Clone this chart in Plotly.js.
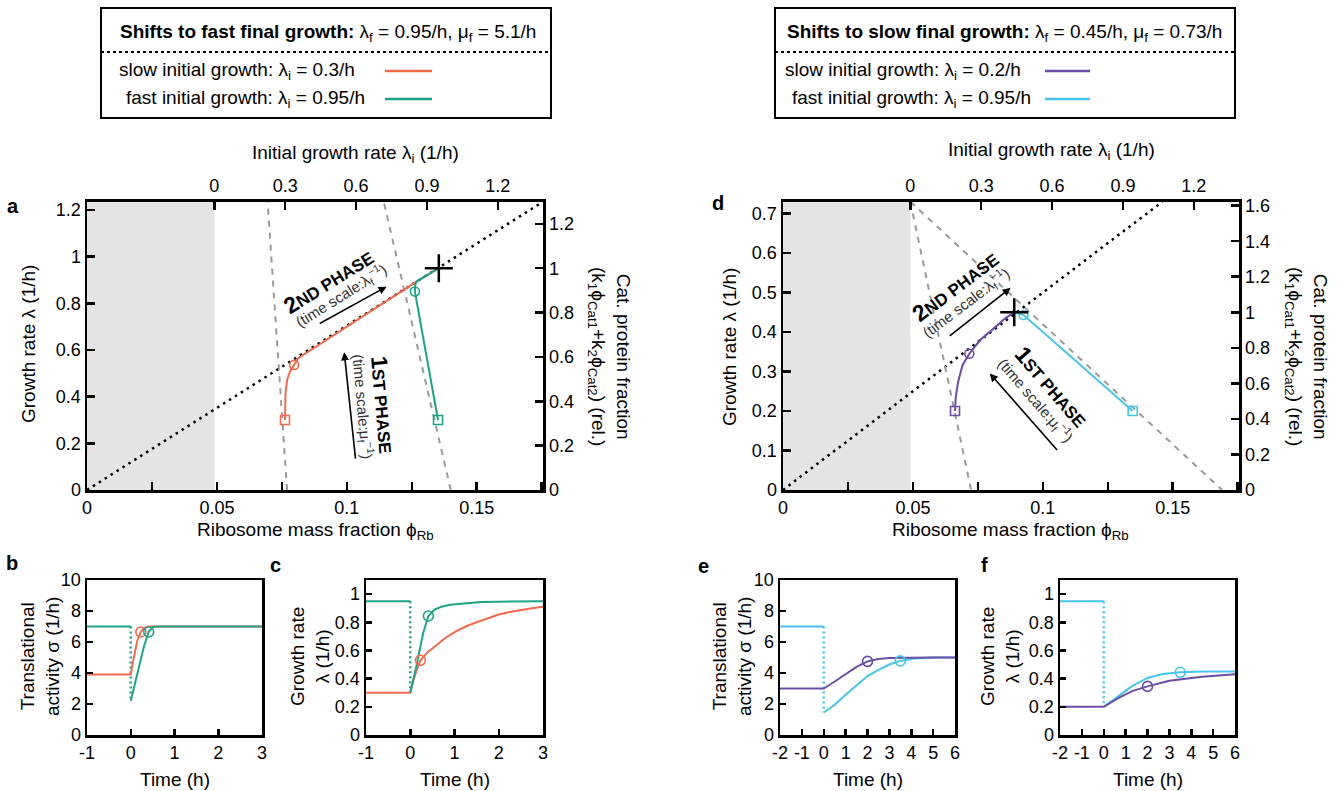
<!DOCTYPE html>
<html>
<head>
<meta charset="utf-8">
<script src="https://cdn.plot.ly/plotly-3.0.1.min.js"></script>
<style>
  html, body { margin: 0; padding: 0; background: #fff; }
  #fig { width: 1339px; height: 791px; }
</style>
</head>
<body>
<div id="fig"></div>
<script>
// ---------- page geometry helpers ----------
const W = 1339, H = 791;
const px = v => v / W;          // page x (pixels) -> paper fraction
const py = v => 1 - v / H;      // page y (pixels) -> paper fraction

const FONT = 'Liberation Sans, Arial, Helvetica, sans-serif';
const RED = '#F26A4B', TEAL = '#1FA387', PURPLE = '#6B4DA6', CYAN = '#47C4EC';
const GREY = '#9a9a9a';

// ---------- model constants ----------
const PHI0 = 0.049;    // ribosome fraction at zero growth (shaded band)
const KAPPA = 11;      // top axis: lambda_i = KAPPA * (phi - PHI0)
const A_LAM_F = 0.95;  // final growth rate, fast shift (right axis is relative to it)
const D_LAM_F = 0.45;  // final growth rate, slow shift

// ---------- panel a : shift to fast final growth ----------
const aDotPhi = [0, 0.1755];
const aDotLam = [0, 1.235];
const aGuide1Phi = [0.0770, 0.0695];
const aGuide2Phi = [0.1400, 0.1142];
const aGuideLam = [0, 1.235];
const aSlowPhi = [0.0762, 0.0762, 0.0764, 0.0770, 0.0781, 0.0797, 0.0813, 0.1268, 0.1354];
const aSlowLam = [0.300, 0.330, 0.414, 0.471, 0.507, 0.536, 0.565, 0.893, 0.950];
const aFastPhi = [0.1351, 0.1262, 0.1263, 0.1268, 0.1354];
const aFastLam = [0.300, 0.850, 0.878, 0.893, 0.950];
const aSlowStart = [0.0762, 0.300], aSlowMid = [0.0797, 0.536];
const aFastStart = [0.1351, 0.300], aFastMid = [0.1262, 0.850];
const aFinal = [0.1354, 0.950];
const topTicks = [0, 0.3, 0.6, 0.9, 1.2];

// ---------- panel d : shift to slow final growth ----------
const dDotPhi = [0, 0.146];
const dDotLam = [0, 0.73];
const dGuide1Phi = [0.049, 0.0724];
const dGuide2Phi = [0.049, 0.1690];
const dGuideLam = [0.73, 0];
const dSlowPhi = [0.0662, 0.0665, 0.0674, 0.0691, 0.0717, 0.0758, 0.0809, 0.0854, 0.0890];
const dSlowLam = [0.200, 0.236, 0.274, 0.316, 0.345, 0.379, 0.408, 0.434, 0.450];
const dFastPhi = [0.1346, 0.0926, 0.0890];
const dFastLam = [0.200, 0.443, 0.450];
const dSlowStart = [0.0662, 0.200], dSlowMid = [0.0717, 0.345];
const dFastStart = [0.1346, 0.200], dFastMid = [0.0926, 0.443];
const dFinal = [0.0890, 0.450];

// ---------- panel b : translational activity, fast shift ----------
const bSlowT = [-1, 0, 0.05, 0.10, 0.15, 0.23, 0.30, 0.40, 3];
const bSlowS = [3.9, 3.9, 4.7, 5.5, 6.1, 6.65, 6.9, 7.0, 7.0];
const bFastPreT = [-1, 0], bFastPreS = [7.0, 7.0];
const bFastJumpT = [0, 0], bFastJumpS = [7.0, 2.2];
const bFastT = [0, 0.10, 0.20, 0.30, 0.41, 0.50, 0.60, 3];
const bFastS = [2.2, 3.4, 4.6, 5.7, 6.65, 6.95, 7.0, 7.0];
const bSlowMid = [0.23, 6.65], bFastMid = [0.41, 6.65];

// ---------- panel c : growth rate, fast shift ----------
const cSlowT = [-1, 0, 0.10, 0.23, 0.40, 0.60, 0.80, 1.0, 1.25, 1.5, 1.75, 2.0, 2.25, 2.5, 2.75, 3.0];
const cSlowL = [0.30, 0.30, 0.42, 0.53, 0.59, 0.643, 0.69, 0.73, 0.77, 0.80, 0.83, 0.855, 0.873, 0.888, 0.90, 0.91];
const cFastPreT = [-1, 0], cFastPreL = [0.95, 0.95];
const cFastJumpT = [0, 0], cFastJumpL = [0.95, 0.30];
const cFastT = [0, 0.14, 0.29, 0.41, 0.55, 0.70, 0.90, 1.2, 1.6, 2.0, 2.5, 3.0];
const cFastL = [0.30, 0.49, 0.72, 0.845, 0.89, 0.91, 0.925, 0.935, 0.943, 0.946, 0.948, 0.95];
const cSlowMid = [0.23, 0.53], cFastMid = [0.41, 0.845];

// ---------- panel e : translational activity, slow shift ----------
const eSlowT = [-2, 0, 0.5, 1.0, 1.5, 2.0, 2.5, 3.0, 4.0, 5.0, 6.0];
const eSlowS = [3.0, 3.0, 3.45, 3.95, 4.4, 4.75, 4.9, 4.96, 5.0, 5.0, 5.0];
const eFastPreT = [-2, 0], eFastPreS = [7.0, 7.0];
const eFastJumpT = [0, 0], eFastJumpS = [7.0, 1.45];
const eFastT = [0, 0.5, 1.0, 1.5, 2.0, 2.5, 3.0, 3.5, 4.0, 4.5, 5.0, 6.0];
const eFastS = [1.45, 1.95, 2.6, 3.2, 3.8, 4.2, 4.55, 4.78, 4.9, 4.97, 5.0, 5.0];
const eSlowMid = [2.0, 4.75], eFastMid = [3.5, 4.78];

// ---------- panel f : growth rate, slow shift ----------
const fSlowT = [-2, 0, 0.7, 1.33, 2.0, 3.0, 4.5, 6.0];
const fSlowL = [0.20, 0.20, 0.265, 0.313, 0.345, 0.385, 0.414, 0.432];
const fFastPreT = [-2, 0], fFastPreL = [0.95, 0.95];
const fFastJumpT = [0, 0], fFastJumpL = [0.95, 0.20];
const fFastT = [0, 0.7, 1.33, 2.0, 2.7, 3.5, 4.5, 6.0];
const fFastL = [0.20, 0.28, 0.35, 0.405, 0.433, 0.445, 0.45, 0.45];
const fSlowMid = [2.0, 0.345], fFastMid = [3.5, 0.445];

// ---------- trace builders ----------
function line(x, y, xa, ya, color, width, dash) {
  return { type: 'scatter', mode: 'lines', x: x, y: y, xaxis: xa, yaxis: ya,
           line: { color: color, width: width, dash: dash || 'solid' },
           hoverinfo: 'skip', showlegend: false, cliponaxis: true };
}
function mark(pt, xa, ya, color, symbol, size, lw) {
  return { type: 'scatter', mode: 'markers', x: [pt[0]], y: [pt[1]], xaxis: xa, yaxis: ya,
           marker: { symbol: symbol, size: size, color: color, line: { color: color, width: lw || 1.6 } },
           hoverinfo: 'skip', showlegend: false, cliponaxis: false };
}
const DOT = '2.5px,4.5px';
const DASH = '6px,6px';
const VDOT = '2px,3px';

const traces = [
  // panel a
  line(aDotPhi, aDotLam, 'x', 'y', '#000', 2.5, DOT),
  line(aGuide1Phi, aGuideLam, 'x', 'y', GREY, 2, DASH),
  line(aGuide2Phi, aGuideLam, 'x', 'y', GREY, 2, DASH),
  line(aSlowPhi, aSlowLam, 'x', 'y', RED, 2),
  line(aFastPhi, aFastLam, 'x', 'y', TEAL, 2),
  mark(aSlowStart, 'x', 'y', RED, 'square-open', 9),
  mark(aSlowMid, 'x', 'y', RED, 'circle-open', 9),
  mark(aFastStart, 'x', 'y', TEAL, 'square-open', 9),
  mark(aFastMid, 'x', 'y', TEAL, 'circle-open', 9),
  mark(aFinal, 'x', 'y', '#000', 'cross-thin', 20, 2.5),
  { type: 'scatter', x: [], y: [], xaxis: 'x2', yaxis: 'y2', showlegend: false },

  // panel d
  line(dDotPhi, dDotLam, 'x3', 'y3', '#000', 2.5, DOT),
  line(dGuide1Phi, dGuideLam, 'x3', 'y3', GREY, 2, DASH),
  line(dGuide2Phi, dGuideLam, 'x3', 'y3', GREY, 2, DASH),
  line(dSlowPhi, dSlowLam, 'x3', 'y3', PURPLE, 2),
  line(dFastPhi, dFastLam, 'x3', 'y3', CYAN, 2),
  mark(dSlowStart, 'x3', 'y3', PURPLE, 'square-open', 9),
  mark(dSlowMid, 'x3', 'y3', PURPLE, 'circle-open', 9),
  mark(dFastStart, 'x3', 'y3', CYAN, 'square-open', 9),
  mark(dFastMid, 'x3', 'y3', CYAN, 'circle-open', 9),
  mark(dFinal, 'x3', 'y3', '#000', 'cross-thin', 20, 2.5),
  { type: 'scatter', x: [], y: [], xaxis: 'x4', yaxis: 'y4', showlegend: false },

  // panel b
  line(bFastPreT, bFastPreS, 'x5', 'y5', TEAL, 2),
  line(bFastJumpT, bFastJumpS, 'x5', 'y5', TEAL, 2.5, VDOT),
  line(bSlowT, bSlowS, 'x5', 'y5', RED, 2),
  line(bFastT, bFastS, 'x5', 'y5', TEAL, 2),
  mark(bSlowMid, 'x5', 'y5', RED, 'circle-open', 10),
  mark(bFastMid, 'x5', 'y5', TEAL, 'circle-open', 10),

  // panel c
  line(cFastPreT, cFastPreL, 'x6', 'y6', TEAL, 2),
  line(cFastJumpT, cFastJumpL, 'x6', 'y6', TEAL, 2.5, VDOT),
  line(cSlowT, cSlowL, 'x6', 'y6', RED, 2),
  line(cFastT, cFastL, 'x6', 'y6', TEAL, 2),
  mark(cSlowMid, 'x6', 'y6', RED, 'circle-open', 10),
  mark(cFastMid, 'x6', 'y6', TEAL, 'circle-open', 10),

  // panel e
  line(eFastPreT, eFastPreS, 'x7', 'y7', CYAN, 2),
  line(eFastJumpT, eFastJumpS, 'x7', 'y7', CYAN, 2.5, VDOT),
  line(eFastT, eFastS, 'x7', 'y7', CYAN, 2),
  line(eSlowT, eSlowS, 'x7', 'y7', PURPLE, 2),
  mark(eSlowMid, 'x7', 'y7', PURPLE, 'circle-open', 10),
  mark(eFastMid, 'x7', 'y7', CYAN, 'circle-open', 10),

  // panel f
  line(fFastPreT, fFastPreL, 'x8', 'y8', CYAN, 2),
  line(fFastJumpT, fFastJumpL, 'x8', 'y8', CYAN, 2.5, VDOT),
  line(fFastT, fFastL, 'x8', 'y8', CYAN, 2),
  line(fSlowT, fSlowL, 'x8', 'y8', PURPLE, 2),
  mark(fSlowMid, 'x8', 'y8', PURPLE, 'circle-open', 10),
  mark(fFastMid, 'x8', 'y8', CYAN, 'circle-open', 10)
];

// ---------- axes ----------
function axis(extra) {
  return Object.assign({
    showline: true, linecolor: '#000', linewidth: 2.5,
    ticks: 'inside', ticklen: 8, tickwidth: 2.5, tickcolor: '#000',
    showgrid: false, zeroline: false, fixedrange: true,
    tickfont: { family: FONT, size: 18, color: '#000' }
  }, extra);
}
const minorPhi = { dtick: 0.025, tick0: 0, ticks: 'inside', ticklen: 8, tickwidth: 2.5, tickcolor: '#000', showgrid: false };
const PHI_MAX = 0.1755;
const topRange = [(0 - PHI0) * KAPPA, (PHI_MAX - PHI0) * KAPPA];

const bigTop = 201.7, bigBottom = 490;
const smallTop = 580, smallBottom = 735;
const minusText = v => v < 0 ? '-' + Math.abs(v) : String(v);
const tB = [-1, 0, 1, 2, 3], tE = [-2, -1, 0, 1, 2, 3, 4, 5, 6];

const layout = {
  width: W, height: H, margin: { l: 0, r: 0, t: 0, b: 0 },
  paper_bgcolor: '#fff', plot_bgcolor: 'rgba(0,0,0,0)', showlegend: false,
  font: { family: FONT, color: '#000' },

  // panel a
  xaxis: axis({ domain: [px(87), px(543)], range: [0, PHI_MAX], anchor: 'y', tick0: 0, dtick: 0.05, minor: minorPhi }),
  yaxis: axis({ domain: [py(bigBottom), py(bigTop)], range: [0, 1.235], anchor: 'x', tick0: 0, dtick: 0.2 }),
  xaxis2: axis({ overlaying: 'x', side: 'top', anchor: 'y', range: topRange, tickvals: topTicks }),
  yaxis2: axis({ overlaying: 'y', side: 'right', anchor: 'x', range: [0, 1.235 / A_LAM_F], tick0: 0, dtick: 0.2 }),

  // panel d
  xaxis3: axis({ domain: [px(783), px(1239)], range: [0, PHI_MAX], anchor: 'y3', tick0: 0, dtick: 0.05, minor: minorPhi }),
  yaxis3: axis({ domain: [py(bigBottom), py(bigTop)], range: [0, 0.73], anchor: 'x3', tick0: 0, dtick: 0.1 }),
  xaxis4: axis({ overlaying: 'x3', side: 'top', anchor: 'y3', range: topRange, tickvals: topTicks }),
  yaxis4: axis({ overlaying: 'y3', side: 'right', anchor: 'x3', range: [0, 0.73 / D_LAM_F], tick0: 0, dtick: 0.2 }),

  // panels b, c, e, f
  xaxis5: axis({ domain: [px(87), px(262)], range: [-1, 3], anchor: 'y5', mirror: true, ticklen: 6, tickvals: tB, ticktext: tB.map(minusText) }),
  yaxis5: axis({ domain: [py(smallBottom), py(smallTop)], range: [0, 10], anchor: 'x5', mirror: true, ticklen: 6, tick0: 0, dtick: 2 }),
  xaxis6: axis({ domain: [px(366), px(543)], range: [-1, 3], anchor: 'y6', mirror: true, ticklen: 6, tickvals: tB, ticktext: tB.map(minusText) }),
  yaxis6: axis({ domain: [py(smallBottom), py(smallTop)], range: [0, 1.1], anchor: 'x6', mirror: true, ticklen: 6, tick0: 0, dtick: 0.2 }),
  xaxis7: axis({ domain: [px(780), px(955)], range: [-2, 6], anchor: 'y7', mirror: true, ticklen: 6, tickvals: tE, ticktext: tE.map(minusText) }),
  yaxis7: axis({ domain: [py(smallBottom), py(smallTop)], range: [0, 10], anchor: 'x7', mirror: true, ticklen: 6, tick0: 0, dtick: 2 }),
  xaxis8: axis({ domain: [px(1060), px(1235)], range: [-2, 6], anchor: 'y8', mirror: true, ticklen: 6, tickvals: tE, ticktext: tE.map(minusText) }),
  yaxis8: axis({ domain: [py(smallBottom), py(smallTop)], range: [0, 1.1], anchor: 'x8', mirror: true, ticklen: 6, tick0: 0, dtick: 0.2 }),

  shapes: [],
  annotations: []
};

// shaded zero-growth band
layout.shapes.push(
  { type: 'rect', xref: 'x', yref: 'y domain', x0: 0, x1: PHI0, y0: 0, y1: 1, fillcolor: '#e4e4e4', line: { width: 0 }, layer: 'below' },
  { type: 'rect', xref: 'x3', yref: 'y3 domain', x0: 0, x1: PHI0, y0: 0, y1: 1, fillcolor: '#e4e4e4', line: { width: 0 }, layer: 'below' }
);

// legend boxes
function pline(x0, y0, x1, y1, color, width, dash) {
  return { type: 'line', xref: 'paper', yref: 'paper', x0: px(x0), x1: px(x1), y0: py(y0), y1: py(y1),
           line: { color: color, width: width, dash: dash || 'solid' } };
}
function prect(x0, y0, x1, y1) {
  return { type: 'rect', xref: 'paper', yref: 'paper', x0: px(x0), x1: px(x1), y0: py(y1), y1: py(y0),
           line: { color: '#000', width: 2 }, fillcolor: 'rgba(0,0,0,0)' };
}
layout.shapes.push(
  prect(101, 8, 551, 118), pline(101, 52, 551, 52, '#000', 2, 'dot'),
  pline(385, 71, 432, 71, RED, 2.5), pline(385, 99, 432, 99, TEAL, 2.5),
  prect(775, 8, 1235, 118), pline(775, 52, 1235, 52, '#000', 2, 'dot'),
  pline(1045, 71, 1090, 71, PURPLE, 2.5), pline(1045, 99, 1090, 99, CYAN, 2.5)
);

// ---------- text ----------
function ptxt(x, y, text, size, opts) {
  return Object.assign({ xref: 'paper', yref: 'paper', x: px(x), y: py(y), text: text, showarrow: false,
           xanchor: 'center', yanchor: 'middle', font: { family: FONT, size: size, color: '#000' } }, opts || {});
}
function dtxt(xa, ya, x, y, text, size, angle, color) {
  return { xref: xa, yref: ya, x: x, y: y, text: text, showarrow: false, textangle: angle,
           xanchor: 'center', yanchor: 'middle', font: { family: FONT, size: size, color: color || '#000' } };
}
function arrow(xa, ya, head, tail) {
  return { xref: xa, yref: ya, axref: xa, ayref: ya, x: head[0], y: head[1], ax: tail[0], ay: tail[1],
           text: '', showarrow: true, arrowhead: 2, arrowsize: 1, arrowwidth: 1.6, arrowcolor: '#000' };
}

const A = layout.annotations;
// legend texts
A.push(
  ptxt(328, 33, '<b>Shifts to fast final growth:</b> λ<sub>f</sub> = 0.95/h, μ<sub>f</sub> = 5.1/h', 19),
  ptxt(117, 71, 'slow initial growth: λ<sub>i</sub> = 0.3/h', 19, { xanchor: 'left' }),
  ptxt(124, 99, 'fast initial growth: λ<sub>i</sub> = 0.95/h', 19, { xanchor: 'left' }),
  ptxt(1005, 33, '<b>Shifts to slow final growth:</b> λ<sub>f</sub> = 0.45/h, μ<sub>f</sub> = 0.73/h', 19),
  ptxt(783, 71, 'slow initial growth: λ<sub>i</sub> = 0.2/h', 19, { xanchor: 'left' }),
  ptxt(790, 99, 'fast initial growth: λ<sub>i</sub> = 0.95/h', 19, { xanchor: 'left' })
);
// panel letters
A.push(
  ptxt(13, 206, '<b>a</b>', 20), ptxt(718, 203, '<b>d</b>', 20),
  ptxt(12, 563, '<b>b</b>', 20), ptxt(275, 565, '<b>c</b>', 20),
  ptxt(703, 566, '<b>e</b>', 20), ptxt(984, 565, '<b>f</b>', 20)
);
// axis titles, panels a and d
const RIGHT_TITLE = 'Cat. protein fraction<br>(k<sub>1</sub>ϕ<sub>Cat1</sub>+k<sub>2</sub>ϕ<sub>Cat2</sub>) (rel.)';
A.push(
  ptxt(355, 154, 'Initial growth rate λ<sub>i</sub> (1/h)', 19),
  ptxt(29, 344, 'Growth rate λ (1/h)', 19, { textangle: -90 }),
  ptxt(315, 531, 'Ribosome mass fraction ϕ<sub>Rb</sub>', 19),
  ptxt(610, 356, RIGHT_TITLE, 19, { textangle: 90 }),
  ptxt(1051, 151, 'Initial growth rate λ<sub>i</sub> (1/h)', 19),
  ptxt(729, 347, 'Growth rate λ (1/h)', 19, { textangle: -90 }),
  ptxt(1011, 531, 'Ribosome mass fraction ϕ<sub>Rb</sub>', 19),
  ptxt(1307, 356, RIGHT_TITLE, 19, { textangle: 90 })
);
// axis titles, small panels
A.push(
  ptxt(40, 657, 'Translational<br>activity σ (1/h)', 19, { textangle: -90 }),
  ptxt(175, 779, 'Time (h)', 19),
  ptxt(310, 657, 'Growth rate<br>λ (1/h)', 19, { textangle: -90 }),
  ptxt(455, 779, 'Time (h)', 19),
  ptxt(732, 657, 'Translational<br>activity σ (1/h)', 19, { textangle: -90 }),
  ptxt(868, 779, 'Time (h)', 19),
  ptxt(1000, 657, 'Growth rate<br>λ (1/h)', 19, { textangle: -90 }),
  ptxt(1148, 779, 'Time (h)', 19)
);
// phase labels and arrows
const PH2 = '<b><span style="font-size:23px">2</span>ND PHASE</b>';
const PH1 = '<b><span style="font-size:23px">1</span>ST PHASE</b>';
const TS2 = '(time scale:λ<sub>f</sub><sup>−1</sup>)';
const TS1 = '(time scale:μ<sub>f</sub><sup>−1</sup>)';
A.push(
  dtxt('x', 'y', 0.0930, 0.895, PH2, 17, -32),
  dtxt('x', 'y', 0.0977, 0.834, TS2, 15, -32, '#333'),
  arrow('x', 'y', [0.1153, 0.871], [0.0890, 0.710]),
  dtxt('x', 'y', 0.1140, 0.364, PH1, 17, 85),
  dtxt('x', 'y', 0.1061, 0.357, TS1, 15, 85, '#333'),
  arrow('x', 'y', [0.0990, 0.590], [0.1034, 0.128]),

  dtxt('x3', 'y3', 0.0664, 0.516, PH2, 17, -37),
  dtxt('x3', 'y3', 0.0704, 0.474, TS2, 15, -37, '#333'),
  arrow('x3', 'y3', [0.0876, 0.512], [0.0636, 0.387]),
  dtxt('x3', 'y3', 0.1036, 0.262, PH1, 17, 49),
  dtxt('x3', 'y3', 0.0970, 0.228, TS1, 15, 49, '#333'),
  arrow('x3', 'y3', [0.0796, 0.295], [0.1060, 0.0976])
);

Plotly.newPlot('fig', traces, layout, { staticPlot: true, displayModeBar: false });
</script>
</body>
</html>
